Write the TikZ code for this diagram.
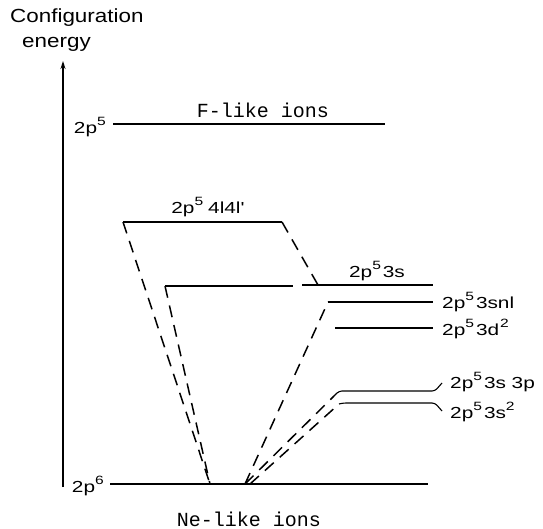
\documentclass[tikz,border=0pt]{standalone}
\usepackage{fontspec}
\setmainfont{Liberation Sans}
\newfontfamily\cour{Liberation Mono}
\newfontfamily\labfont[FakeStretch=1.3]{Liberation Sans}
\newfontfamily\titfont[FakeStretch=1.18]{Liberation Sans}
\usetikzlibrary{arrows.meta}
\tikzset{
  lvl/.style={line width=1.1pt},
  dsh/.style={line width=1.5pt, dash pattern=on 12pt off 8pt},
  lab/.style={inner sep=0pt, font=\labfont\fontsize{16}{18}\selectfont},
  tit/.style={inner sep=0pt, font=\titfont\fontsize{19}{21}\selectfont},
  ion/.style={inner sep=0pt, font=\cour\fontsize{20}{22}\selectfont}
}
\newcommand{\supr}[1]{\raisebox{0.45em}{\fontsize{12}{12}\selectfont #1}}
\newcommand{\sps}[1]{\supr{#1}\hspace{2pt}}
\begin{document}
\begin{tikzpicture}[x=1pt,y=-1pt]
\useasboundingbox (0,0) rectangle (543,529);
% axis
\coordinate (ax0) at (63,487);
\coordinate (ax1) at (63,61);
\draw[line width=1.2pt,-{Stealth[length=8pt,width=5pt]}] (ax0) -- (ax1);
\node[tit,anchor=west] (t1) at (10,18) {Configuration};
\node[tit,anchor=west] (t2) at (22,44) {energy};
% F-like level
\coordinate (f0) at (113,124);
\coordinate (f1) at (385,124);
\draw[lvl] (f0) -- (f1);
\node[lab,anchor=east] (lf) at (106,127) {2p\supr{5}};
\node[ion] (fion) at (263,110) {F-like ions};
% ground level
\coordinate (g0) at (110,484);
\coordinate (g1) at (428,484);
\draw[lvl] (g0) -- (g1);
\node[lab,anchor=east] (lg) at (104,486) {2p\supr{6}};
\node[ion] (neion) at (249,519) {Ne-like ions};
% 4l4l'
\coordinate (a0) at (123,222);
\coordinate (a1) at (282,222);
\draw[lvl] (a0) -- (a1);
\node[lab] (la) at (208,207) {2p\supr{5}\hspace{5pt}4l4l'};
% 3s
\coordinate (b0) at (165,286);
\coordinate (b1) at (293,286);
\coordinate (b2) at (302,285);
\coordinate (b3) at (433,285);
\draw[lvl] (b0) -- (b1);
\draw[lvl] (b2) -- (b3);
\node[lab] (lb) at (377,271) {2p\sps{5}3s};
% 3snl
\coordinate (c0) at (328,302);
\coordinate (c1) at (433,302);
\draw[lvl] (c0) -- (c1);
\node[lab,anchor=west] (lc) at (442,302) {2p\sps{5}3snl};
% 3d2
\coordinate (d0) at (335,328);
\coordinate (d1) at (433,328);
\draw[lvl] (d0) -- (d1);
\node[lab,anchor=west] (ld) at (442,329) {2p\sps{5}3d\hspace{1pt}\supr{2}};
% 3s3p
\coordinate (e0) at (334,396);
\coordinate (e1) at (435,391);
\coordinate (e2) at (442,383);
\draw[lvl,rounded corners=3pt] (e0) -- (339,391) -- (e1) -- (e2);
\node[lab,anchor=west] (le) at (450,382) {2p\sps{5}3s 3p};
% 3s2
\coordinate (h0) at (339,404);
\coordinate (h1) at (435,403);
\coordinate (h2) at (442,411);
\draw[lvl,rounded corners=3pt] (h0) -- (343,403) -- (h1) -- (h2);
\node[lab,anchor=west] (lh) at (450,412) {2p\sps{5}3s\supr{2}};
% dashed connectors
\coordinate (z1) at (210,484);
\coordinate (z2) at (245,484);
\coordinate (z3) at (250,484);
\draw[dsh] (a0) -- (z1);
\draw[dsh] (b0) -- (z1);
\draw[dsh] (a1) -- (318,285);
\draw[dsh] (z2) -- (c0);
\draw[dsh] (z2) -- (e0);
\draw[dsh] (z3) -- (h0);
\end{tikzpicture}
\end{document}
